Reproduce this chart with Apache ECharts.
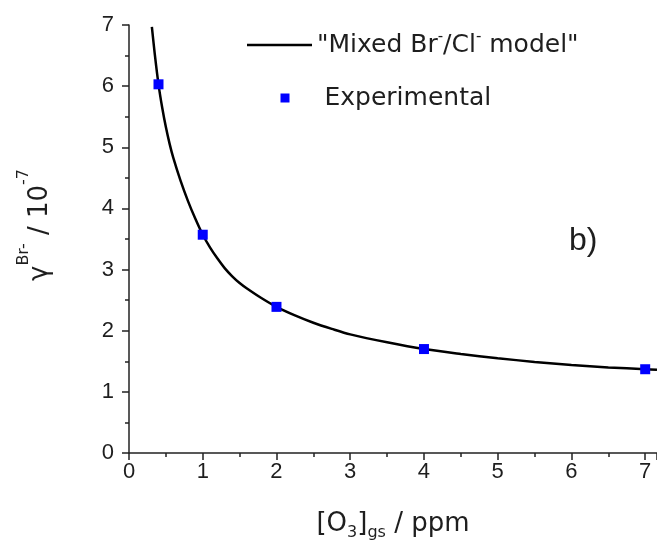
<!DOCTYPE html>
<html><head><meta charset="utf-8">
<script src="https://cdn.jsdelivr.net/npm/echarts@6/dist/echarts.min.js"></script>
<style>html,body{margin:0;padding:0;background:#fff}#c{width:657px;height:551px}</style>
</head><body><div id="c"></div>
<script>
// Model curve ("Mixed Br-/Cl- model")
const curveX = [0.31, 0.35, 0.40, 0.45, 0.50, 0.55, 0.60, 0.70, 0.80, 0.90, 1.00, 1.10, 1.20, 1.30, 1.40, 1.50, 1.60, 1.80, 2.00, 2.25, 2.50, 2.75, 3.00, 3.50, 4.00, 4.50, 5.00, 5.50, 6.00, 6.50, 7.00, 7.16];
const curveY = [6.97, 6.52, 6.03, 5.65, 5.33, 5.06, 4.83, 4.45, 4.12, 3.83, 3.57, 3.36, 3.18, 3.02, 2.89, 2.78, 2.69, 2.53, 2.39, 2.25, 2.13, 2.03, 1.94, 1.81, 1.70, 1.62, 1.55, 1.49, 1.44, 1.40, 1.37, 1.36];
// Experimental points
const expX = [0.4, 1, 2, 4, 7];
const expY = [6.03, 3.57, 2.39, 1.70, 1.37];
// Axis ranges / ticks
const xMin = 0, xMax = 7.16, xStep = 1;
const yMin = 0, yMax = 7, yStep = 1;
const modelName = 'model';
const expName = 'Experimental';

const FONT = '"Liberation Sans", Arial, sans-serif';
const WFONT = '"DejaVu Sans", sans-serif';
const TXT = '#1e1e1e';
const AX = '#222';

const chart = echarts.init(document.getElementById('c'));
const axisCommon = {
  axisLine: {show: true, onZero: false, lineStyle: {color: AX, width: 1.5}},
  axisTick: {show: true, length: 7, lineStyle: {color: AX, width: 1.5}},
  minorTick: {show: true, splitNumber: 2, length: 4, lineStyle: {color: AX, width: 1.5}},
  splitLine: {show: false},
  minorSplitLine: {show: false}
};
chart.setOption({
  animation: false,
  backgroundColor: '#fff',
  grid: {left: 129, top: 25, right: 0, bottom: 98},
  xAxis: Object.assign({
    type: 'value', min: xMin, max: xMax, interval: xStep,
    axisLabel: {showMaxLabel: false, margin: 8, fontSize: 22, color: TXT, fontFamily: FONT},
    name: '{m|[O}{sub|3}{m|]}{sub|gs}{m| / ppm}',
    nameLocation: 'middle', nameGap: 54,
    nameTextStyle: {rich: {
      m: {fontSize: 26, lineHeight: 34, color: TXT, fontFamily: WFONT},
      sub: {fontSize: 16, lineHeight: 16, verticalAlign: 'bottom', color: TXT, fontFamily: WFONT}
    }}
  }, axisCommon),
  yAxis: Object.assign({
    type: 'value', min: yMin, max: yMax, interval: yStep,
    axisLabel: {margin: 15, fontSize: 22, color: TXT, fontFamily: FONT}
  }, axisCommon),
  legend: [{
    data: [{name: modelName, icon: 'rect'}], left: 247, top: 30, padding: 0, selectedMode: false,
    itemWidth: 65, itemHeight: 2.5,
    itemStyle: {color: '#000'},
    formatter: () => '{m|"Mixed Br}{s|-}{m|/Cl}{s|-}{m| model"}',
    textStyle: {rich: {
      m: {fontSize: 25, lineHeight: 30, color: TXT, fontFamily: WFONT},
      s: {fontSize: 15, lineHeight: 15, verticalAlign: 'top', color: TXT, fontFamily: WFONT}
    }}
  }, {
    data: [{name: expName, icon: 'rect'}], left: 280.5, top: 85.5, padding: 0, selectedMode: false,
    itemWidth: 9, itemHeight: 9,
    itemStyle: {color: '#0000ff', opacity: 1},
    formatter: (n) => '{m|' + n + '}',
    textStyle: {rich: {
      m: {fontSize: 25, lineHeight: 30, color: TXT, fontFamily: WFONT, padding: [0, 0, 0, 30]}
    }}
  }],
  graphic: [{
    type: 'text', x: 40, y: 225, rotation: Math.PI / 2,
    style: {
      text: '{m|γ}{s|Br-}{m| / 10}{s|-7}',
      align: 'center', verticalAlign: 'middle',
      rich: {
        m: {fontSize: 26, lineHeight: 48, fill: TXT, fontFamily: WFONT},
        s: {fontSize: 16, lineHeight: 14, verticalAlign: 'top', fill: TXT, fontFamily: WFONT}
      }
    }
  }, {
    type: 'text', left: 569, top: 225,
    style: {text: 'b)', fontSize: 32, fill: TXT, fontFamily: FONT}
  }],
  series: [{
    name: modelName, type: 'line',
    data: curveX.map((x, i) => [x, curveY[i]]),
    smooth: 0.3,
    symbol: 'none', showSymbol: false,
    lineStyle: {color: '#000', width: 2.5},
    itemStyle: {color: '#000'},
    clip: true, z: 2
  }, {
    name: expName, type: 'scatter',
    data: expX.map((x, i) => [x, expY[i]]),
    symbol: 'rect', symbolSize: 10,
    itemStyle: {color: '#0000ff', opacity: 1},
    z: 3
  }]
});
</script></body></html>
